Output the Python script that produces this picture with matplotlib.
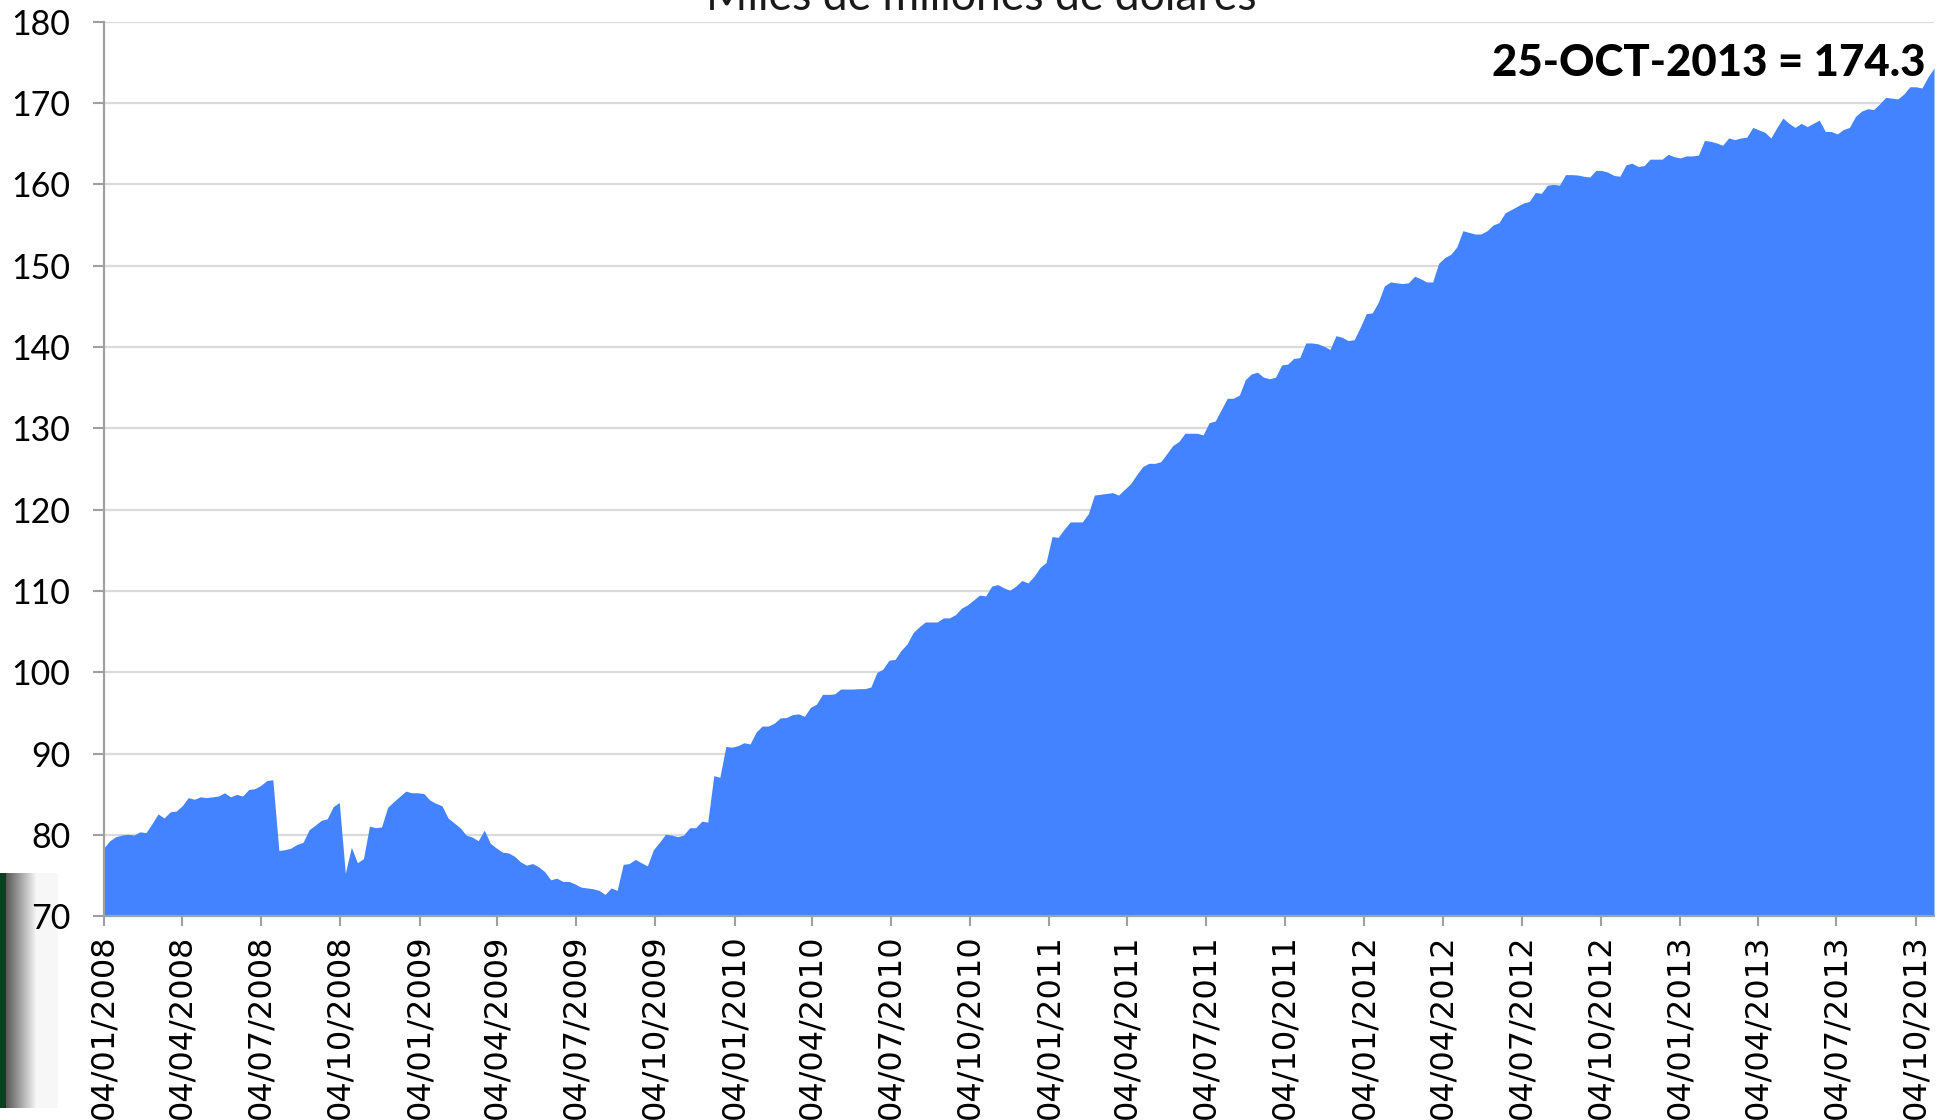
import matplotlib
matplotlib.use("Agg")
import matplotlib.pyplot as plt
import numpy as np
import pandas as pd

# ---------------- data (weekly, Fridays) ----------------
start_date = "2008-01-04"

values_2008 = [78.4, 79.3, 79.8, 80.0, 80.1, 80.0, 80.4, 80.3, 81.4, 82.6,
               82.1, 82.85, 82.95, 83.6, 84.6, 84.4, 84.7, 84.6, 84.7, 84.8,
               85.2, 84.7, 85.0, 84.8, 85.6, 85.7, 86.1, 86.7, 86.8, 78.1,
               78.2, 78.4, 78.85, 79.1, 80.65, 81.2, 81.8, 82.0, 83.5, 84.0,
               75.3, 78.5, 76.6, 77.1, 81.1, 80.9, 81.0, 83.4, 84.1, 84.75,
               85.4, 85.2]
values_2009 = [85.2, 85.1, 84.3, 83.9, 83.6, 82.1, 81.5, 80.9, 80.0, 79.75,
               79.3, 80.6, 79.0, 78.4, 77.9, 77.8, 77.4, 76.7, 76.3, 76.5,
               76.1, 75.5, 74.5, 74.7, 74.3, 74.3, 74.0, 73.6, 73.5, 73.4,
               73.2, 72.7, 73.5, 73.2, 76.4, 76.5, 77.0, 76.6, 76.2, 78.2,
               79.1, 80.1, 80.0, 79.8, 80.0, 80.9, 80.9, 81.7, 81.6, 87.3,
               87.1, 90.9]
values_2010 = [90.8, 91.0, 91.35, 91.2, 92.65, 93.4, 93.4, 93.75, 94.4, 94.45,
               94.8, 94.9, 94.6, 95.7, 96.1, 97.3, 97.3, 97.35, 97.95, 97.95,
               97.95, 98.0, 98.0, 98.2, 100.0, 100.4, 101.5, 101.6, 102.7, 103.5,
               104.9, 105.6, 106.2, 106.2, 106.2, 106.7, 106.7, 107.1, 107.9, 108.3,
               108.9, 109.5, 109.4, 110.6, 110.8, 110.4, 110.1, 110.6, 111.3, 111.0,
               111.8, 112.9, 113.5]
values_2011 = [116.7, 116.6, 117.6, 118.5, 118.5, 118.5, 119.5, 121.8, 121.9, 122.0,
               122.1, 121.8, 122.5, 123.2, 124.3, 125.3, 125.7, 125.7, 125.9, 126.9,
               127.9, 128.4, 129.4, 129.4, 129.4, 129.2, 130.7, 130.9, 132.3, 133.7,
               133.7, 134.1, 136.0, 136.7, 136.9, 136.3, 136.1, 136.3, 137.8, 137.9,
               138.6, 138.7, 140.5, 140.5, 140.4, 140.1, 139.7, 141.4, 141.2, 140.8,
               140.9, 142.4]
values_2012 = [144.1, 144.2, 145.5, 147.5, 148.0, 147.9, 147.8, 147.9, 148.7, 148.4,
               148.0, 148.0, 150.3, 151.0, 151.4, 152.3, 154.3, 154.1, 153.9, 153.9,
               154.3, 155.0, 155.3, 156.5, 156.9, 157.3, 157.7, 157.9, 159.0, 158.9,
               159.9, 160.0, 159.9, 161.2, 161.2, 161.15, 161.0, 160.9, 161.7, 161.7,
               161.5, 161.1, 161.0, 162.4, 162.6, 162.2, 162.3, 163.1, 163.1, 163.1,
               163.7, 163.4]
values_2013 = [163.25, 163.5, 163.5, 163.6, 165.4, 165.3, 165.1, 164.8, 165.7, 165.5,
               165.7, 165.8, 167.0, 166.7, 166.4, 165.7, 167.0, 168.15, 167.5, 167.0,
               167.5, 167.1, 167.5, 167.9, 166.5, 166.5, 166.2, 166.75, 167.0, 168.35,
               169.0, 169.3, 169.2, 169.9, 170.7, 170.6, 170.5, 171.1, 172.0, 172.0,
               171.85, 173.2, 174.3]

tick_labels = ["04/01/2008", "04/04/2008", "04/07/2008", "04/10/2008",
               "04/01/2009", "04/04/2009", "04/07/2009", "04/10/2009",
               "04/01/2010", "04/04/2010", "04/07/2010", "04/10/2010",
               "04/01/2011", "04/04/2011", "04/07/2011", "04/10/2011",
               "04/01/2012", "04/04/2012", "04/07/2012", "04/10/2012",
               "04/01/2013", "04/04/2013", "04/07/2013", "04/10/2013"]
y_ticks = [70, 80, 90, 100, 110, 120, 130, 140, 150, 160, 170, 180]
title_text = "Miles de millones de dólares"
annotation_text = "25-OCT-2013 = 174.3"

# ---------------- figure ----------------
values = np.concatenate([values_2008, values_2009, values_2010,
                         values_2011, values_2012, values_2013])
dates = pd.date_range(start_date, periods=len(values), freq="7D")

W, H = 1939, 1120
fig = plt.figure(figsize=(W / 100, H / 100), dpi=100)
fig.patch.set_facecolor("white")

# screenshot artefact in bottom-left corner (drawn behind everything)
art_ax = fig.add_axes([0, 1 - 1108 / H, 58 / W, (1108 - 873) / H])
art_ax.set_zorder(0)
cols = 58
grad = np.ones((1, cols, 3))
for i in range(cols):
    if i < 6:
        grad[0, i] = (0.05, 0.25, 0.12)
    else:
        t = min(1.0, (i - 6) / 30.0)
        g = 0.35 + 0.62 * t
        grad[0, i] = (g, g, g)
art_ax.imshow(grad, aspect="auto", extent=[0, cols, 0, 1])
art_ax.axis("off")

left_px, right_px, top_px, bottom_px = 103.7, 1934, 21.7, 916.4
ax = fig.add_axes([left_px / W, 1 - bottom_px / H,
                   (right_px - left_px) / W, (bottom_px - top_px) / H])
ax.set_zorder(1)

ax.fill_between(dates, values, y_ticks[0], color="#4383FF", linewidth=0, zorder=2)
ax.set_ylim(y_ticks[0], y_ticks[-1])
ax.set_xlim(dates[0], dates[-1])

ax.set_yticks(y_ticks)
ax.yaxis.grid(True, color="#DADADA", linewidth=1.6, zorder=0)
ax.xaxis.grid(False)
ax.set_axisbelow(True)

tick_dates = pd.to_datetime(tick_labels, format="%d/%m/%Y")
ax.set_xticks(tick_dates)
ax.set_xticklabels(tick_labels, rotation=90, fontfamily="DejaVu Sans", fontsize=23)
for lab in ax.get_yticklabels():
    lab.set_fontfamily("Lato")
    lab.set_fontsize(24.5)

for s in ("top", "right"):
    ax.spines[s].set_visible(False)
for s in ("left", "bottom"):
    ax.spines[s].set_color("#A0A0A0")
    ax.spines[s].set_linewidth(1.6)
    ax.spines[s].set_zorder(3)

ax.tick_params(axis="x", length=7, width=1.5, color="#A0A0A0", pad=6)
ax.tick_params(axis="y", length=8, width=1.5, color="#A0A0A0", pad=16)

# title (cut off at top, as in the reference)
fig.text(981 / W, 1 - 9.5 / H, title_text, ha="center", va="baseline",
         fontfamily="Lato", fontsize=32, color="#1a1a1a")

# annotation
fig.text(1926 / W, 1 - 76.5 / H, annotation_text, ha="right", va="baseline",
         fontfamily="Lato", fontweight="black", fontsize=31.5, color="black")

fig.savefig("out.png", dpi=100, facecolor="white")
